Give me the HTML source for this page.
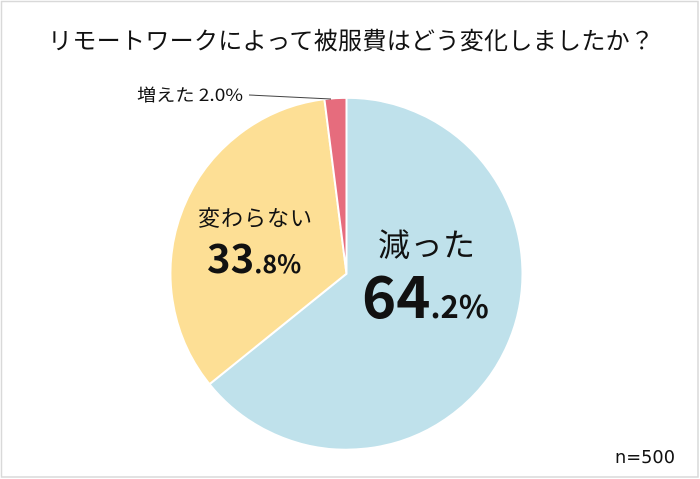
<!DOCTYPE html>
<html>
<head>
<meta charset="utf-8">
<style>
  html, body { margin: 0; padding: 0; background: #ffffff; }
  svg { display: block; }
  text { font-family: "Liberation Sans", "Noto Sans CJK JP", sans-serif; fill: #111; }
  .jp { font-family: "Noto Sans CJK JP", "Liberation Sans", sans-serif; }
  .num { font-family: "Noto Sans CJK JP", "Liberation Sans", sans-serif; font-weight: bold; }
  .dv { font-family: "DejaVu Sans", "Liberation Sans", sans-serif; }
</style>
</head>
<body>
<svg width="700" height="479" viewBox="0 0 700 479" xmlns="http://www.w3.org/2000/svg">
  <rect x="0" y="0" width="700" height="479" fill="#ffffff"/>
  <rect x="1.5" y="1.5" width="696.5" height="475.5" fill="none" stroke="#d9d9d9" stroke-width="1.5"/>

  <!-- Title -->
  <text class="jp" x="351" y="49" font-size="24" text-anchor="middle" textLength="606" lengthAdjust="spacing">リモートワークによって被服費はどう変化しましたか？</text>

  <!-- Pie: center (346.5, 273.7), r=176 -->
  <path d="M346.5,273.7 L346.5,97.7 A176,176 0 1,1 209.5,384.2 Z" fill="#bfe1eb" stroke="#ffffff" stroke-width="2" stroke-linejoin="round"/>
  <path d="M346.5,273.7 L209.5,384.2 A176,176 0 0,1 324.4,99.1 Z" fill="#fddf95" stroke="#ffffff" stroke-width="2" stroke-linejoin="round"/>
  <path d="M346.5,273.7 L324.4,99.1 A176,176 0 0,1 346.5,97.7 Z" fill="#e66c7d" stroke="#ffffff" stroke-width="2" stroke-linejoin="round"/>

  <!-- Leader line -->
  <line x1="249" y1="95" x2="331" y2="99" stroke="#444" stroke-width="1"/>
  <text class="jp" x="137" y="101" font-size="17" textLength="106" lengthAdjust="spacingAndGlyphs">増えた 2.0%</text>

  <!-- Yellow label -->
  <text class="jp" x="255" y="226" font-size="22" text-anchor="middle" textLength="114" lengthAdjust="spacing">変わらない</text>
  <text class="num" x="207" y="273"><tspan font-size="40">33</tspan><tspan font-size="25">.8%</tspan></text>

  <!-- Blue label -->
  <text class="jp" x="426.5" y="256" font-size="32" text-anchor="middle" textLength="97" lengthAdjust="spacing">減った</text>
  <text class="num" x="362" y="318"><tspan font-size="58">64</tspan><tspan font-size="31">.2%</tspan></text>

  <!-- n -->
  <text class="dv" x="615" y="463" font-size="17.5" textLength="60" lengthAdjust="spacingAndGlyphs">n=500</text>
</svg>
</body>
</html>
